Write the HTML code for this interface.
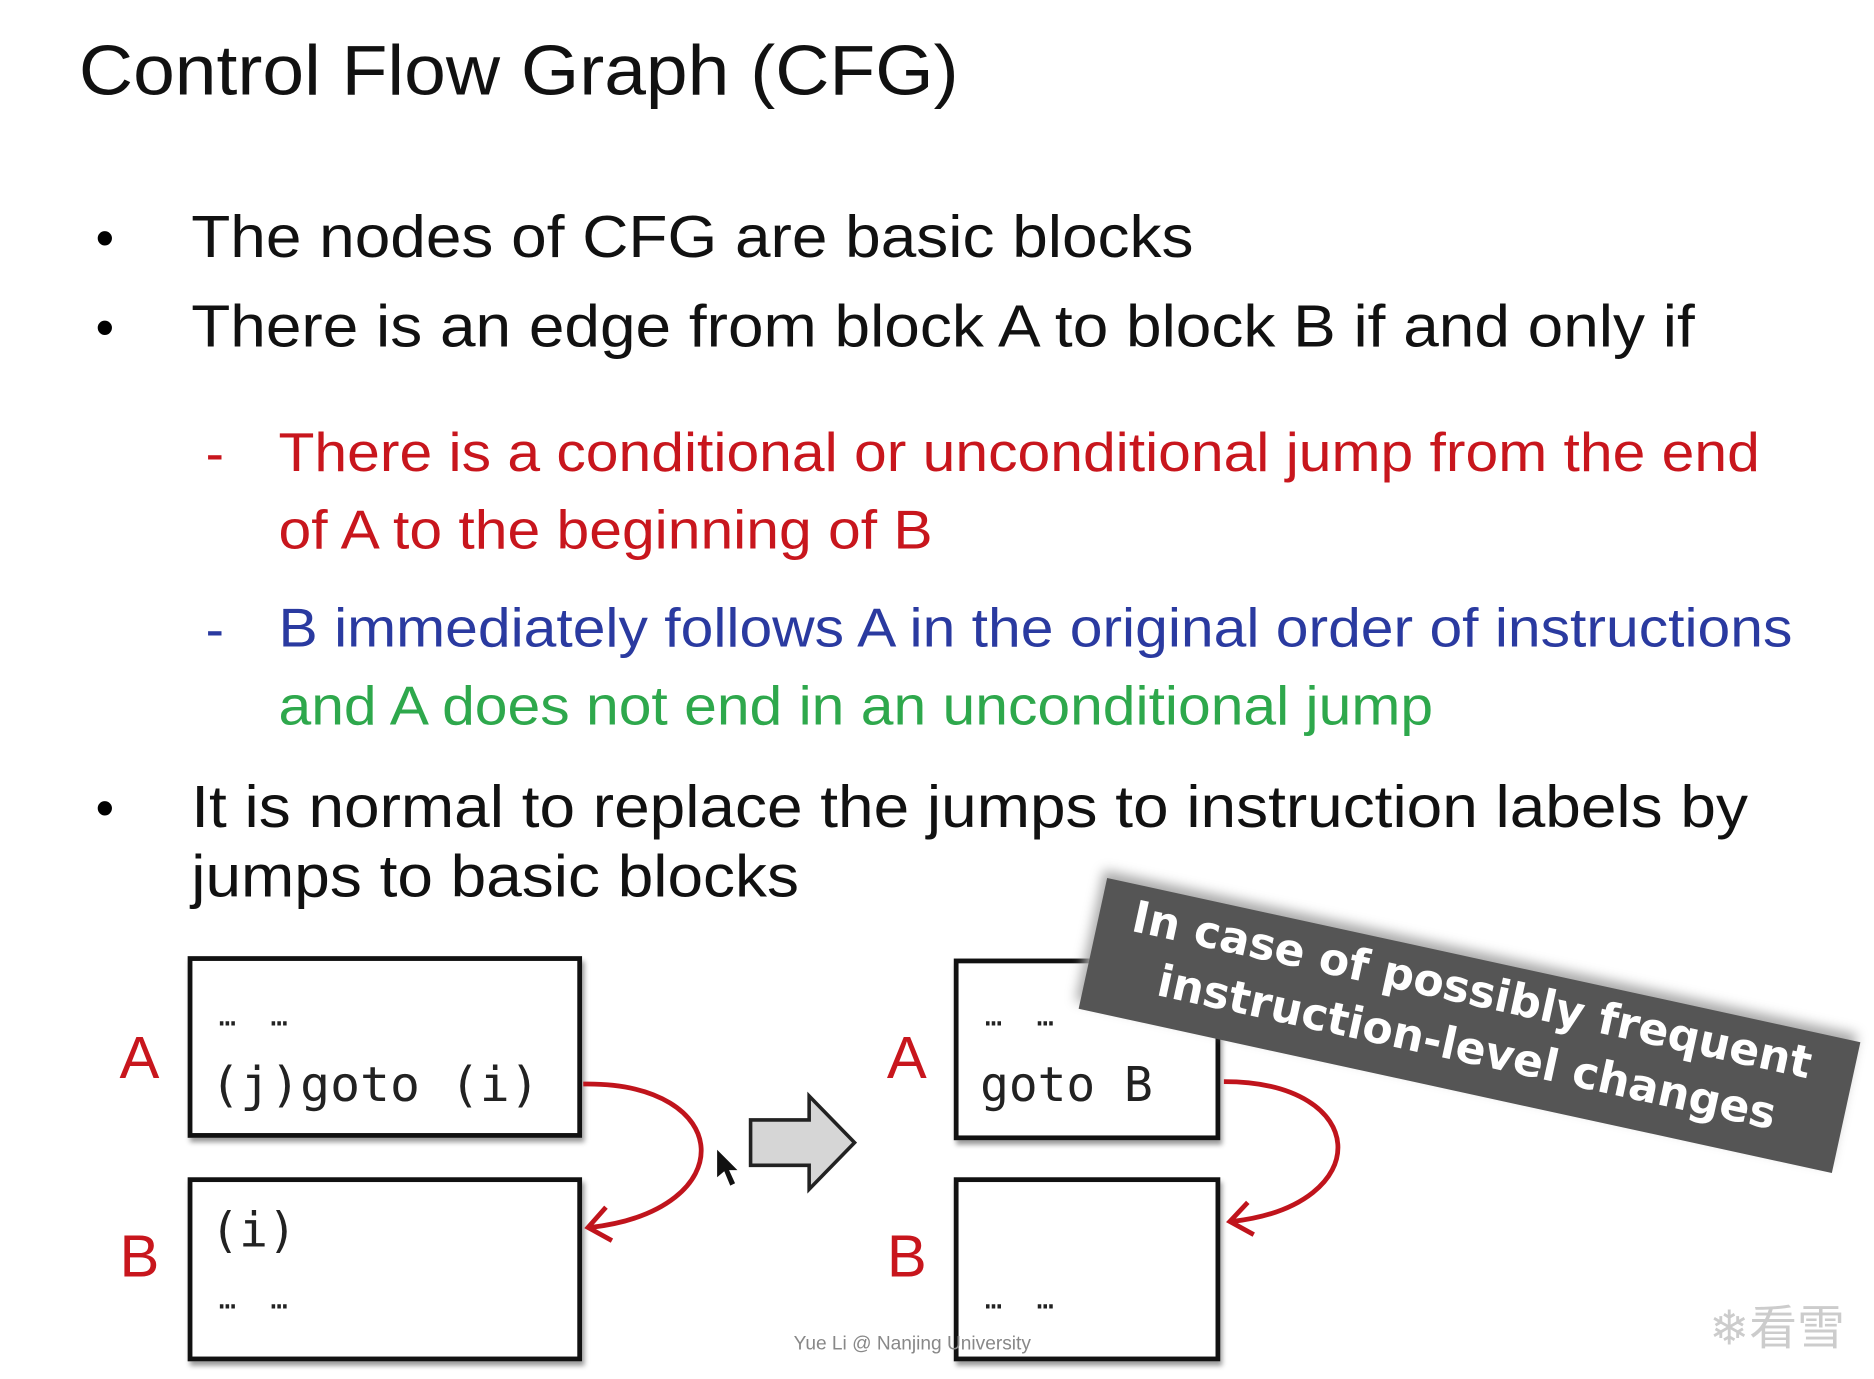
<!DOCTYPE html>
<html><head><meta charset="utf-8"><style>
html,body{margin:0;padding:0;background:#fff;overflow:hidden}
#s{position:absolute;left:0;top:0;width:1568px;height:1154px;transform:scale(1.1952);transform-origin:0 0;font-family:"Liberation Sans",Arial,sans-serif}
.t{position:absolute;white-space:nowrap;line-height:1}
.w{transform:scaleX(1.07);transform-origin:0 0}
.box{position:absolute;border:4px solid #111;box-shadow:2px 4px 4px #999;background:#fff;box-sizing:border-box}
.mono{font-family:"DejaVu Sans Mono","Liberation Mono",monospace;color:#222}
.lab{color:#c8161d;font-size:50px}
</style></head><body><div id="s">
<div class="t w" style="left:66px;top:30px;font-size:59px;color:#111;transform:scaleX(1.064)">Control Flow Graph (CFG)</div>
<div class="t" style="left:80px;top:178px;font-size:44px">•</div>
<div class="t w" style="left:160px;top:173px;font-size:50px;color:#111">The nodes of CFG are basic blocks</div>
<div class="t" style="left:80px;top:253px;font-size:44px">•</div>
<div class="t w" style="left:160px;top:248px;font-size:50px;color:#111">There is an edge from block A to block B if and only if</div>
<div class="t" style="left:172px;top:356px;font-size:46px;color:#c8161d">-</div>
<div class="t w" style="left:233px;top:355px;font-size:46px;color:#c8161d">There is a conditional or unconditional jump from the end</div>
<div class="t w" style="left:233px;top:420px;font-size:46px;color:#c8161d">of A to the beginning of B</div>
<div class="t" style="left:172px;top:503px;font-size:46px;color:#2a3aa0">-</div>
<div class="t w" style="left:233px;top:502px;font-size:46px;color:#2a3aa0">B immediately follows A in the original order of instructions</div>
<div class="t w" style="left:233px;top:567px;font-size:46px;color:#2ea84c">and A does not end in an unconditional jump</div>
<div class="t" style="left:80px;top:655px;font-size:44px">•</div>
<div class="t w" style="left:160px;top:650px;font-size:50px;color:#111">It is normal to replace the jumps to instruction labels by</div>
<div class="t w" style="left:160px;top:708px;font-size:50px;color:#111">jumps to basic blocks</div>

<div class="box" style="left:157px;top:800px;width:330px;height:152px"></div>
<div class="box" style="left:157px;top:985px;width:330px;height:154px"></div>
<div class="box" style="left:798px;top:802px;width:223px;height:152px"></div>
<div class="box" style="left:798px;top:985px;width:223px;height:154px"></div>
<div class="t lab" style="left:100px;top:860px">A</div>
<div class="t lab" style="left:100px;top:1026px">B</div>
<div class="t lab" style="left:742px;top:860px">A</div>
<div class="t lab" style="left:742px;top:1026px">B</div>
<div class="t mono" style="left:183px;top:838px;font-size:24px">…&nbsp;&nbsp;…</div>
<div class="t mono" style="left:176px;top:888px;font-size:40px;transform:scaleX(1.04);transform-origin:0 0">(j)goto (i)</div>
<div class="t mono" style="left:176px;top:1010px;font-size:40px">(i)</div>
<div class="t mono" style="left:183px;top:1075px;font-size:24px">…&nbsp;&nbsp;…</div>
<div class="t mono" style="left:824px;top:838px;font-size:24px">…&nbsp;&nbsp;…</div>
<div class="t mono" style="left:820px;top:888px;font-size:40px">goto B</div>
<div class="t mono" style="left:824px;top:1075px;font-size:24px">…&nbsp;&nbsp;…</div>

<svg style="position:absolute;left:0;top:0" width="1568" height="1154">
<g fill="none" stroke="#c0141c" stroke-width="4">
<path d="M488 907 C615 905 622 1012 494 1027"/>
<path d="M507 1010 L492 1027 L512 1038"/>
<path d="M1024 905 C1148 905 1152 1008 1031 1022"/>
<path d="M1044 1006 L1029 1022 L1049 1033"/>
</g>
<path d="M628 937 H677 V917 L715 956 L677 995 V975 H628 Z" fill="#d6d6d6" stroke="#222" stroke-width="3"/>
<path d="M600 962 L600 985 L606 980 L611 992 L615 990 L610 979 L617 979 Z" fill="#111"/>
</svg>

<div style="position:absolute;left:907px;top:802px;width:645px;height:112px;background:#555;transform:rotate(12.3deg);box-shadow:-4px -6px 10px #aaa;font-family:'DejaVu Sans',sans-serif;font-weight:bold;color:#fff;font-size:37px;line-height:1">
<div class="t" style="left:28px;top:8px">In case of possibly frequent</div>
<div class="t" style="left:60px;top:56px">instruction-level changes</div>
</div>

<div class="t" style="left:664px;top:1117px;font-size:16px;color:#888">Yue Li @ Nanjing University</div>
<div class="t" style="left:1430px;top:1092px;font-size:40px;color:#ccc;font-family:'Liberation Sans','Noto Sans CJK SC',sans-serif">❄看雪</div>
</div></body></html>
